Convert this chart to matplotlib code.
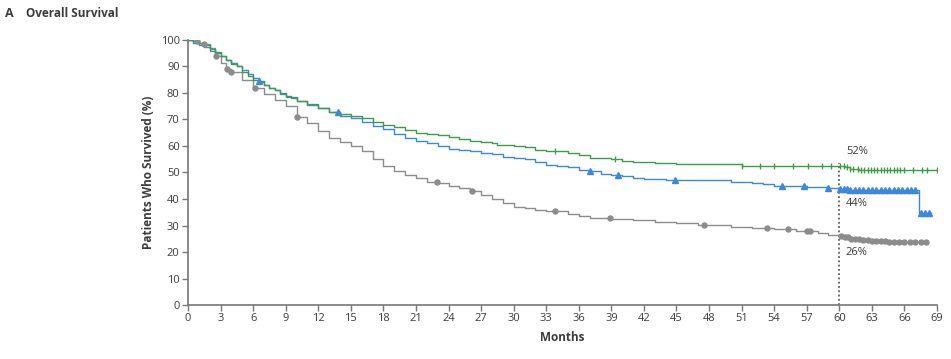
import numpy as np
import matplotlib
matplotlib.use('Agg')
import matplotlib.pyplot as plt

plt.rcParams['font.family'] = ['Open Sans', 'DejaVu Sans']

# ---- data (months, % surviving) ----
green_t = [0, 0.5, 1, 1.5, 2, 2.5, 3, 3.5, 4, 4.5, 5, 5.5, 6, 6.5, 7, 7.5, 8, 8.5, 9, 9.5,
           10, 11, 12, 13, 14, 15, 16, 17, 18, 19, 20, 21, 22, 23, 24, 25, 26, 27, 28, 28.5,
           30, 31, 32, 33, 35, 36, 37, 39, 40, 41, 43, 45, 51, 60, 60.5, 61, 61.8, 69]
green_s = [100, 99.5, 99, 98, 96.5, 95.5, 94, 92.5, 91, 90, 88, 86.5, 85, 84, 83, 82, 81, 80, 79, 78,
           77, 76, 74.5, 73, 72, 71.5, 70.5, 69, 68, 67, 66, 65, 64.5, 64, 63.5, 62.5, 62, 61.5, 61, 60.5,
           60, 59.5, 58.5, 58, 57.5, 56.5, 55.5, 55, 54.5, 54, 53.5, 53.3, 52.5, 52.3, 52, 51.5, 51, 51]

blue_t = [0, 0.5, 1, 1.5, 2, 2.5, 3, 3.5, 4, 4.5, 5, 5.5, 6, 6.5, 7, 7.5, 8, 8.5, 9, 10,
          11, 12, 13, 14, 15, 16, 17, 18, 19, 20, 21, 22, 23, 24, 25, 26, 27, 28, 29, 30,
          31, 32, 33, 34, 35, 36, 37, 38, 39, 40, 41, 42, 44, 50, 52, 53, 54, 57, 59, 60,
          61, 67.3, 68.4]
blue_s = [100, 99, 98, 97.5, 96, 95, 94, 92.5, 91.5, 90, 88.5, 87, 85.5, 84.5, 83, 82, 81, 79.5, 78.5, 77,
          75.5, 74.5, 73, 71.5, 70.5, 69, 67.5, 66.5, 64.5, 63, 62, 61, 60, 59, 58.5, 58, 57.5, 57, 56, 55.5,
          55, 54, 53, 52.5, 52, 51, 50.5, 49.5, 49, 48.5, 48, 47.5, 47.2, 46.5, 46, 45.5, 45, 44.5, 44, 43.8,
          43.3, 34.8, 34.8]

gray_t = [0, 0.5, 1, 1.5, 2, 2.5, 3, 3.5, 4, 5, 6, 7, 8, 9, 10, 11, 12, 13, 14, 15,
          16, 17, 18, 19, 20, 21, 22, 23, 24, 25, 26, 27, 28, 29, 30, 31, 32, 33, 35, 36,
          37, 39, 41, 43, 45, 47, 50, 52, 54, 56, 58, 59, 60, 60.5, 61, 62, 63, 64.5, 68.1]
gray_s = [100, 99.5, 99, 98.5, 97, 94, 91.5, 89, 88, 85, 82, 79.5, 77.5, 75, 71, 68.5, 65.5, 63, 61.5, 60,
          58, 55, 52.5, 50.5, 49, 48, 46.5, 46, 45, 44, 43, 41.5, 40, 38.5, 37, 36.5, 36, 35.5, 34.5, 33.5,
          33, 32.5, 32, 31.5, 31, 30.3, 29.5, 29, 28.5, 27.8, 27, 26.5, 26.1, 25.5, 25, 24.5, 24, 23.6, 23.6]

# censoring marks (months)
green_cens = [33.8, 39.3, 51, 52.7, 54, 55.7, 57.1, 58.4, 59.2, 60.1, 60.4, 60.7, 61.0, 61.3,
              61.7, 62.0, 62.3, 62.6, 62.9, 63.2, 63.5, 63.8, 64.1, 64.4, 64.7, 65.0, 65.3,
              65.6, 66.0, 66.8, 67.6, 68.1, 69.0]
blue_cens = [6.5, 13.8, 37, 39.6, 44.9, 54.7, 56.7, 59, 60.1, 60.4, 60.7, 61.0, 61.4, 61.8,
             62.2, 62.6, 63.0, 63.4, 63.8, 64.2, 64.6, 65.0, 65.4, 65.8, 66.2, 66.6, 67.0,
             67.5, 67.9, 68.3]
gray_cens = [0.8, 1.5, 2.6, 3.6, 4.0, 6.2, 10.0, 22.9, 26.2, 33.8, 38.9, 47.5, 53.3, 55.3,
             57.0, 57.3, 60.2, 60.5, 60.8, 61.1, 61.4, 61.8, 62.2, 62.6, 63.0, 63.4, 63.8,
             64.2, 64.6, 65.0, 65.5, 66.0, 66.5, 67.0, 67.5, 68.0]

labels_at_60 = ['52%', '44%', '26%']
label_y = [58, 38.3, 19.7]

x_ticks = list(range(0, 70, 3))
y_ticks = list(range(0, 101, 10))

GREEN = '#3f9a4a'
BLUE = '#3d88d8'
GRAY = '#8c8c8c'
TXT = '#3c3c3c'


def step_value(t, s, x):
    # value of the step curve at time x
    i = np.searchsorted(t, x, side='right') - 1
    return np.asarray(s)[i]


fig = plt.figure(figsize=(9.51, 3.59), dpi=100)
ax = fig.add_axes([0.1977, 0.1504, 0.7876, 0.7382])

for t, s, cens, col, mk, ms in [(gray_t, gray_s, gray_cens, GRAY, 'o', 3.6),
                                (blue_t, blue_s, blue_cens, BLUE, '^', 3.8),
                                (green_t, green_s, green_cens, GREEN, '|', 4.5)]:
    ax.plot(t, s, drawstyle='steps-post', color=col, lw=1.0, zorder=3)
    cy = [step_value(t, s, c) for c in cens]
    ax.plot(cens, cy, ls='none', marker=mk, ms=ms, color=col, mec=col, mew=1.0, zorder=4)

ax.plot([60, 60], [0, 53.5], ls=(0, (1.2, 1.6)), color='#444444', lw=1.1, zorder=2)
for lab, ly in zip(labels_at_60, label_y):
    ax.text(60.6, ly, lab, fontsize=8, color=TXT, va='center', ha='left')

ax.set_xlim(0, 69)
ax.set_ylim(0, 100)
ax.set_xticks(x_ticks)
ax.set_yticks(y_ticks)
for sp in ['top', 'right']:
    ax.spines[sp].set_visible(False)
for sp in ['left', 'bottom']:
    ax.spines[sp].set_color('#777777')
    ax.spines[sp].set_linewidth(1.2)
ax.tick_params(direction='out', length=4, width=1, color='#777777', labelsize=8,
               labelcolor=TXT, pad=2)
ax.set_xlabel('Months', fontsize=8.5, fontweight='bold', color=TXT, labelpad=5)
ax.set_ylabel('Patients Who Survived (%)', fontsize=8.5, fontweight='bold', color=TXT, labelpad=4)

fig.text(0.005, 0.962, 'A', fontsize=9, fontweight='bold', color=TXT, va='center')
fig.text(0.027, 0.962, 'Overall Survival', fontsize=8.5, fontweight='bold', color=TXT, va='center')

fig.savefig('out.png', dpi=100)
